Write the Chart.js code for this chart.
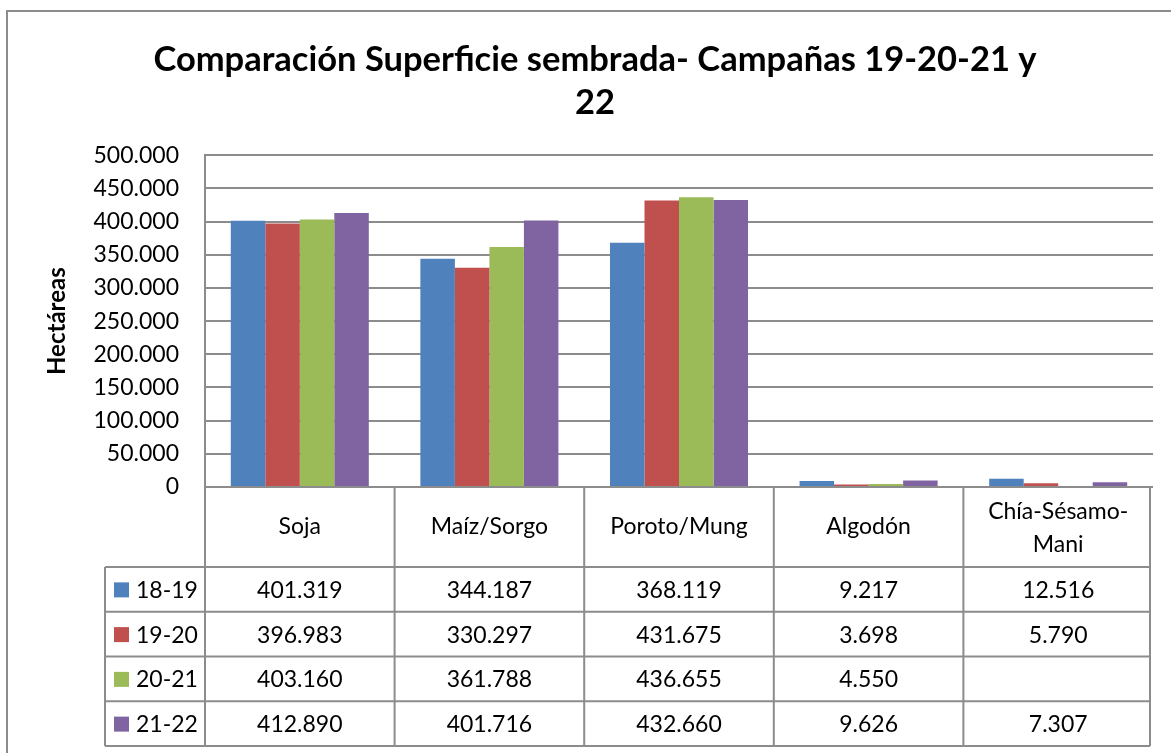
<!DOCTYPE html>
<html>
<head>
<meta charset="utf-8">
<script src="https://cdn.jsdelivr.net/npm/chart.js@4"></script>
<style>
  body { margin: 0; background: #fff; }
</style>
</head>
<body>
<canvas id="grafico" width="1171" height="753"></canvas>
<script>
const categorias = ["Soja", "Maíz/Sorgo", "Poroto/Mung", "Algodón", ["Chía-Sésamo-", "Mani"]];
const campanas = ["18-19", "19-20", "20-21", "21-22"];
const v1819 = [401319, 344187, 368119, 9217, 12516];
const v1920 = [396983, 330297, 431675, 3698, 5790];
const v2021 = [403160, 361788, 436655, 4550, null];
const v2122 = [412890, 401716, 432660, 9626, 7307];
const colores = ["#4F81BD", "#C0504D", "#9BBB59", "#8064A2"];

const FUENTE = "Lato, 'Open Sans', sans-serif";

function formato(n) {
  if (n === null || n === undefined) return "";
  return String(Math.round(n)).replace(/\B(?=(\d{3})+(?!\d))/g, ".");
}

// marco + tabla de datos debajo del eje
const tablaDatos = {
  id: "tablaDatos",
  beforeDraw(chart) {
    const ctx = chart.ctx;
    ctx.save();
    ctx.strokeStyle = "#8c8c8c";
    ctx.lineWidth = 2;
    ctx.strokeRect(7, 11, 1300, 900);
    ctx.restore();
  },
  afterDraw(chart) {
    const ctx = chart.ctx;
    const area = chart.chartArea;
    const x = chart.scales.x;
    const ancho = (area.right - area.left) / categorias.length;
    const yTop = area.bottom;
    const altoCab = 80;
    const altoFila = 44.75;
    const yFilas = yTop + altoCab;
    const yFin = yFilas + altoFila * campanas.length;
    const xLeyenda = 105;

    ctx.save();
    ctx.strokeStyle = "#8c8c8c";
    ctx.lineWidth = 2;
    ctx.beginPath();
    // línea superior (eje)
    ctx.moveTo(area.left, yTop);
    ctx.lineTo(area.right - 3, yTop);
    // verticales de columnas
    for (let i = 0; i <= categorias.length; i++) {
      const xx = i === categorias.length ? area.right - 3 : area.left + i * ancho;
      ctx.moveTo(xx, yTop);
      ctx.lineTo(xx, yFin);
    }
    // horizontales de filas
    for (let r = 0; r <= campanas.length; r++) {
      const yy = yFilas + r * altoFila;
      ctx.moveTo(xLeyenda, yy);
      ctx.lineTo(area.right - 3, yy);
    }
    ctx.moveTo(xLeyenda, yFilas);
    ctx.lineTo(xLeyenda, yFin);
    ctx.stroke();

    ctx.fillStyle = "#000";
    ctx.font = "23px " + FUENTE;
    ctx.textAlign = "center";
    ctx.textBaseline = "middle";
    categorias.forEach((c, i) => {
      const cx = x.getPixelForValue(i);
      if (Array.isArray(c)) {
        ctx.fillText(c[0], cx, yTop + 25);
        ctx.fillText(c[1], cx, yTop + 58);
      } else {
        ctx.fillText(c, cx, yTop + 40);
      }
    });

    const series = [v1819, v1920, v2021, v2122];
    series.forEach((serie, r) => {
      const cy = yFilas + r * altoFila + altoFila / 2 + 1;
      serie.forEach((v, i) => {
        ctx.textAlign = "center";
        ctx.fillText(formato(v), x.getPixelForValue(i), cy);
      });
      ctx.fillStyle = colores[r];
      ctx.fillRect(114, cy - 8, 15, 15);
      ctx.fillStyle = "#000";
      ctx.textAlign = "left";
      ctx.fillText(campanas[r], 136, cy);
    });
    ctx.restore();
  }
};

new Chart(document.getElementById("grafico"), {
  type: "bar",
  data: {
    labels: categorias,
    datasets: [
      { label: campanas[0], data: v1819, backgroundColor: colores[0] },
      { label: campanas[1], data: v1920, backgroundColor: colores[1] },
      { label: campanas[2], data: v2021, backgroundColor: colores[2] },
      { label: campanas[3], data: v2122, backgroundColor: colores[3] },
    ],
  },
  options: {
    responsive: false,
    animation: false,
    barPercentage: 1,
    categoryPercentage: 0.728,
    layout: { padding: { left: 37, right: 18, top: 11, bottom: 0 } },
    plugins: {
      legend: { display: false },
      tooltip: { enabled: false },
      title: {
        display: true,
        text: ["Comparación Superficie sembrada- Campañas 19-20-21 y", "22"],
        color: "#000",
        font: { family: FUENTE, size: 34.5, weight: "bold", lineHeight: 1.25 },
        padding: { top: 27, bottom: 31 },
      },
    },
    scales: {
      x: {
        ticks: { display: false },
        grid: { display: false },
        border: { display: false },
        afterFit(scale) { scale.height = 266; },
      },
      y: {
        min: 0,
        max: 500000,
        ticks: {
          stepSize: 50000,
          padding: 26,
          color: "#000",
          font: { family: FUENTE, size: 23 },
          callback: (v) => formato(v),
        },
        grid: { color: "#8c8c8c", lineWidth: 2, drawTicks: false },
        border: { display: true, color: "#8c8c8c", width: 2 },
        title: {
          display: true,
          text: "Hectáreas",
          color: "#000",
          font: { family: FUENTE, size: 24, weight: "bold" },
          padding: { top: 6, bottom: 0 },
        },
        afterFit(scale) { scale.width = 168; },
      },
    },
  },
  plugins: [tablaDatos],
});
</script>
</body>
</html>
